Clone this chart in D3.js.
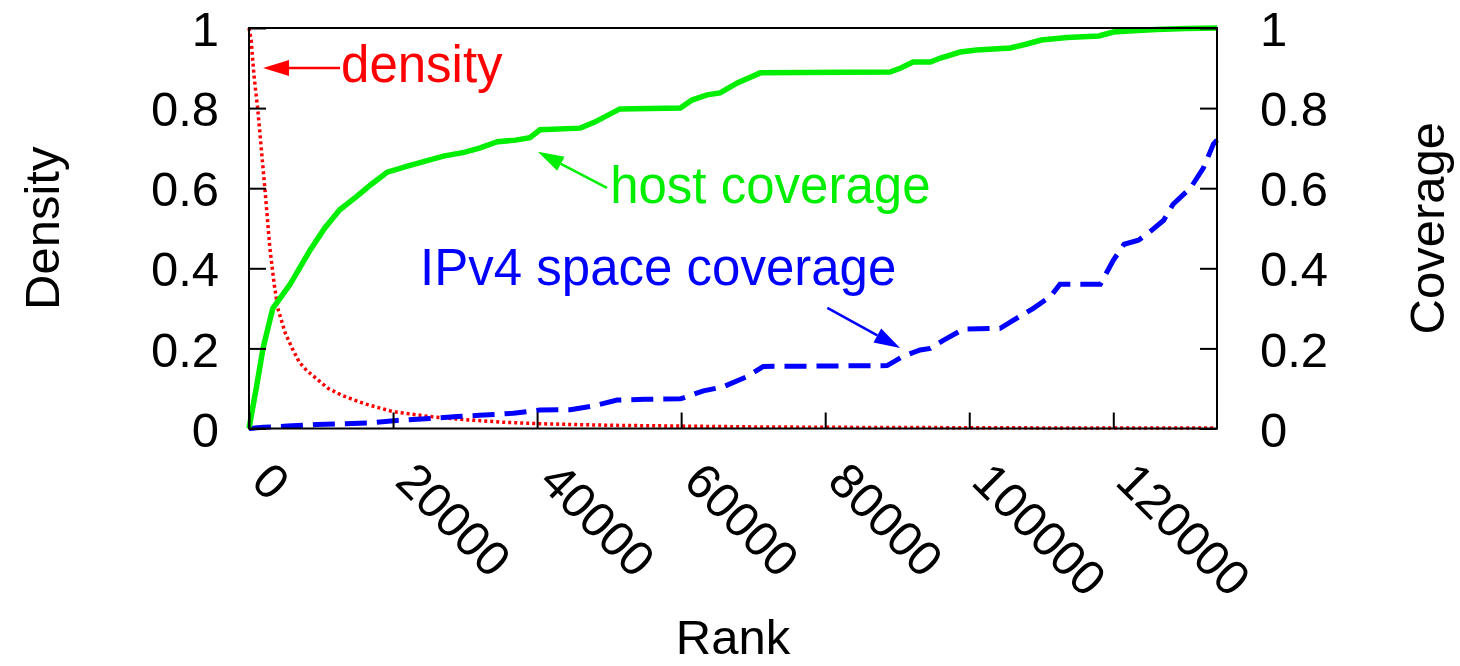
<!DOCTYPE html>
<html>
<head>
<meta charset="utf-8">
<script src="https://cdn.jsdelivr.net/npm/d3@7"></script>
<style>
  body { margin: 0; background: #fff; }
  text { font-family: "Liberation Sans", Arial, Helvetica, sans-serif; }
</style>
</head>
<body>
<svg id="chart"></svg>
<script>
// values
var xTicks = [0, 20000, 40000, 60000, 80000, 100000, 120000];
var yTicks = [0, 0.2, 0.4, 0.6, 0.8, 1];
var maxRank = 134400;

var densityRank = [0, 300, 700, 1200, 1700, 2200, 2900, 3500, 4000, 5000, 6000, 7000, 8000, 9000,
  11000, 13000, 16000, 20000, 25000, 30000, 35000, 40000, 50000, 60000, 70000, 80000, 100000, 120000, 134400];
var densityVal = [1, 0.97, 0.88, 0.8, 0.7, 0.6, 0.45, 0.36, 0.3, 0.24, 0.2, 0.165, 0.145, 0.13,
  0.1, 0.082, 0.062, 0.042, 0.03, 0.022, 0.016, 0.012, 0.008, 0.006, 0.004, 0.003, 0.002, 0.001, 0.001];

var hostRank = [0, 500, 1000, 1950, 3300, 4500, 5700, 7000, 8500, 10500, 12600, 15000, 17000, 19200,
  22000, 25000, 27000, 30000, 32000, 34500, 37000, 39000, 40400, 46000, 48000, 51500, 59900, 61500,
  63600, 65400, 67800, 71000, 89000, 90500, 92200, 94600, 96000, 98750, 101000, 105700, 108000,
  110000, 113600, 118000, 120000, 122800, 126000, 130000, 134400];
var hostVal = [0, 0.05, 0.1, 0.2, 0.3, 0.33, 0.36, 0.4, 0.446, 0.5, 0.546, 0.58, 0.61, 0.64,
  0.655, 0.67, 0.68, 0.69, 0.7, 0.716, 0.72, 0.726, 0.746, 0.75, 0.765, 0.798, 0.8, 0.82,
  0.833, 0.838, 0.863, 0.888, 0.89, 0.9, 0.915, 0.915, 0.925, 0.94, 0.945, 0.95, 0.96,
  0.97, 0.976, 0.98, 0.99, 0.993, 0.996, 0.999, 1.0];

var ipv4Rank = [0, 2000, 5300, 9400, 13000, 16800, 20500, 25100, 28900, 32000, 36700, 40400, 44600,
  47800, 51100, 55000, 59900, 63100, 65800, 69200, 71400, 80000, 88600, 90800, 93200, 94600, 96400,
  99200, 104300, 106100, 108900, 111300, 112600, 118200, 120000, 121500, 123500, 125000, 127000,
  128300, 130700, 132500, 133900, 134400];
var ipv4Val = [0, 0.003, 0.006, 0.01, 0.012, 0.014, 0.02, 0.025, 0.03, 0.033, 0.038, 0.046, 0.047,
  0.056, 0.071, 0.073, 0.074, 0.094, 0.104, 0.13, 0.155, 0.156, 0.157, 0.18, 0.196, 0.2, 0.22,
  0.248, 0.25, 0.27, 0.3, 0.33, 0.36, 0.36, 0.42, 0.46, 0.47, 0.49, 0.52,
  0.56, 0.6, 0.65, 0.71, 0.72];

// annotations: label, text position and arrow tail/tip, all in data units
var notes = [
  { label: "density", color: "#ff0000", tx: 12780, ty: 0.864, from: [12640, 0.9], to: [1950, 0.9] },
  { label: "host coverage", color: "#00ee00", tx: 50140, ty: 0.564, from: [49700, 0.601], to: [40100, 0.691] },
  { label: "IPv4 space coverage", color: "#0000ff", tx: 23750, ty: 0.359, from: [80300, 0.301], to: [90400, 0.201] }
];

const margin = { top: 28, right: 243, bottom: 237.5, left: 249 };
var width = 1460 - margin.left - margin.right;
var height = 666 - margin.top - margin.bottom;

var svg = d3.select("#chart")
  .attr("width", 1460)
  .attr("height", 666)
  .append("g")
  .attr("transform", "translate(" + margin.left + "," + margin.top + ")");

var x = d3.scaleLinear().domain([0, maxRank]).range([0, width]);
var y = d3.scaleLinear().domain([0, 1]).range([height, 0]);

var fontSize = 49;

// curves
var line = d3.line().x(d => x(d[0])).y(d => y(d[1]));

svg.append("path")
  .datum(densityRank.map((r, i) => [r, densityVal[i]]))
  .attr("d", line)
  .attr("fill", "none")
  .attr("stroke", "#ff0000")
  .attr("stroke-width", 3.5)
  .attr("stroke-dasharray", "3,3");

svg.append("path")
  .datum(ipv4Rank.map((r, i) => [r, ipv4Val[i]]))
  .attr("d", line)
  .attr("fill", "none")
  .attr("stroke", "#0000ff")
  .attr("stroke-width", 5)
  .attr("stroke-dasharray", "22,10");

svg.append("path")
  .datum(hostRank.map((r, i) => [r, hostVal[i]]))
  .attr("d", line)
  .attr("fill", "none")
  .attr("stroke", "#00ee00")
  .attr("stroke-width", 5.5);

// axes with inward ticks
var left = svg.append("g")
  .call(d3.axisLeft(y).tickValues(yTicks).tickFormat(d3.format("")).tickSize(-17).tickPadding(30));
var right = svg.append("g")
  .attr("transform", "translate(" + width + ",0)")
  .call(d3.axisRight(y).tickValues(yTicks).tickFormat(d3.format("")).tickSize(-17).tickPadding(43));
var bottom = svg.append("g")
  .attr("transform", "translate(0," + height + ")")
  .call(d3.axisBottom(x).tickValues(xTicks).tickFormat(d3.format("d")).tickSize(-16));

[left, right, bottom].forEach(function (g) {
  g.select(".domain").remove();
  g.selectAll(".tick line").attr("stroke", "#000").attr("stroke-width", 2);
  g.selectAll(".tick text").attr("font-size", fontSize).attr("fill", "#000")
    .style("font-family", "'Liberation Sans', Arial, Helvetica, sans-serif");
});
left.selectAll(".tick text").attr("dy", "0.36em");
right.selectAll(".tick text").attr("dy", "0.36em");
bottom.selectAll(".tick text")
  .attr("y", null)
  .attr("dy", null)
  .attr("text-anchor", "start")
  .attr("transform", "translate(0,55) rotate(45)");

// frame
svg.append("rect")
  .attr("width", width)
  .attr("height", height)
  .attr("fill", "none")
  .attr("stroke", "#000")
  .attr("stroke-width", 2);

// axis titles
svg.append("text")
  .attr("transform", "translate(" + (59 - margin.left) + "," + (height / 2) + ") rotate(-90)")
  .attr("text-anchor", "middle")
  .attr("font-size", fontSize)
  .text("Density");

svg.append("text")
  .attr("transform", "translate(" + (1444 - margin.left) + "," + (height / 2) + ") rotate(-90)")
  .attr("text-anchor", "middle")
  .attr("font-size", fontSize)
  .text("Coverage");

svg.append("text")
  .attr("x", width / 2)
  .attr("y", 654 - margin.top)
  .attr("text-anchor", "middle")
  .attr("font-size", fontSize)
  .text("Rank");

// annotations with arrows
notes.forEach(function (n) {
  var x1 = x(n.from[0]), y1 = y(n.from[1]);
  var x2 = x(n.to[0]), y2 = y(n.to[1]);
  var ang = Math.atan2(y2 - y1, x2 - x1);
  var len = 26, half = 8;
  var bx = x2 - len * Math.cos(ang), by = y2 - len * Math.sin(ang);
  svg.append("line")
    .attr("x1", x1).attr("y1", y1)
    .attr("x2", bx).attr("y2", by)
    .attr("stroke", n.color)
    .attr("stroke-width", 2.5);
  svg.append("path")
    .attr("d", "M" + x2 + "," + y2 +
      "L" + (bx - half * Math.sin(ang)) + "," + (by + half * Math.cos(ang)) +
      "L" + (bx + half * Math.sin(ang)) + "," + (by - half * Math.cos(ang)) + "Z")
    .attr("fill", n.color);
  svg.append("text")
    .attr("x", x(n.tx))
    .attr("y", y(n.ty))
    .attr("font-size", 51)
    .attr("fill", n.color)
    .text(n.label);
});
</script>
</body>
</html>
